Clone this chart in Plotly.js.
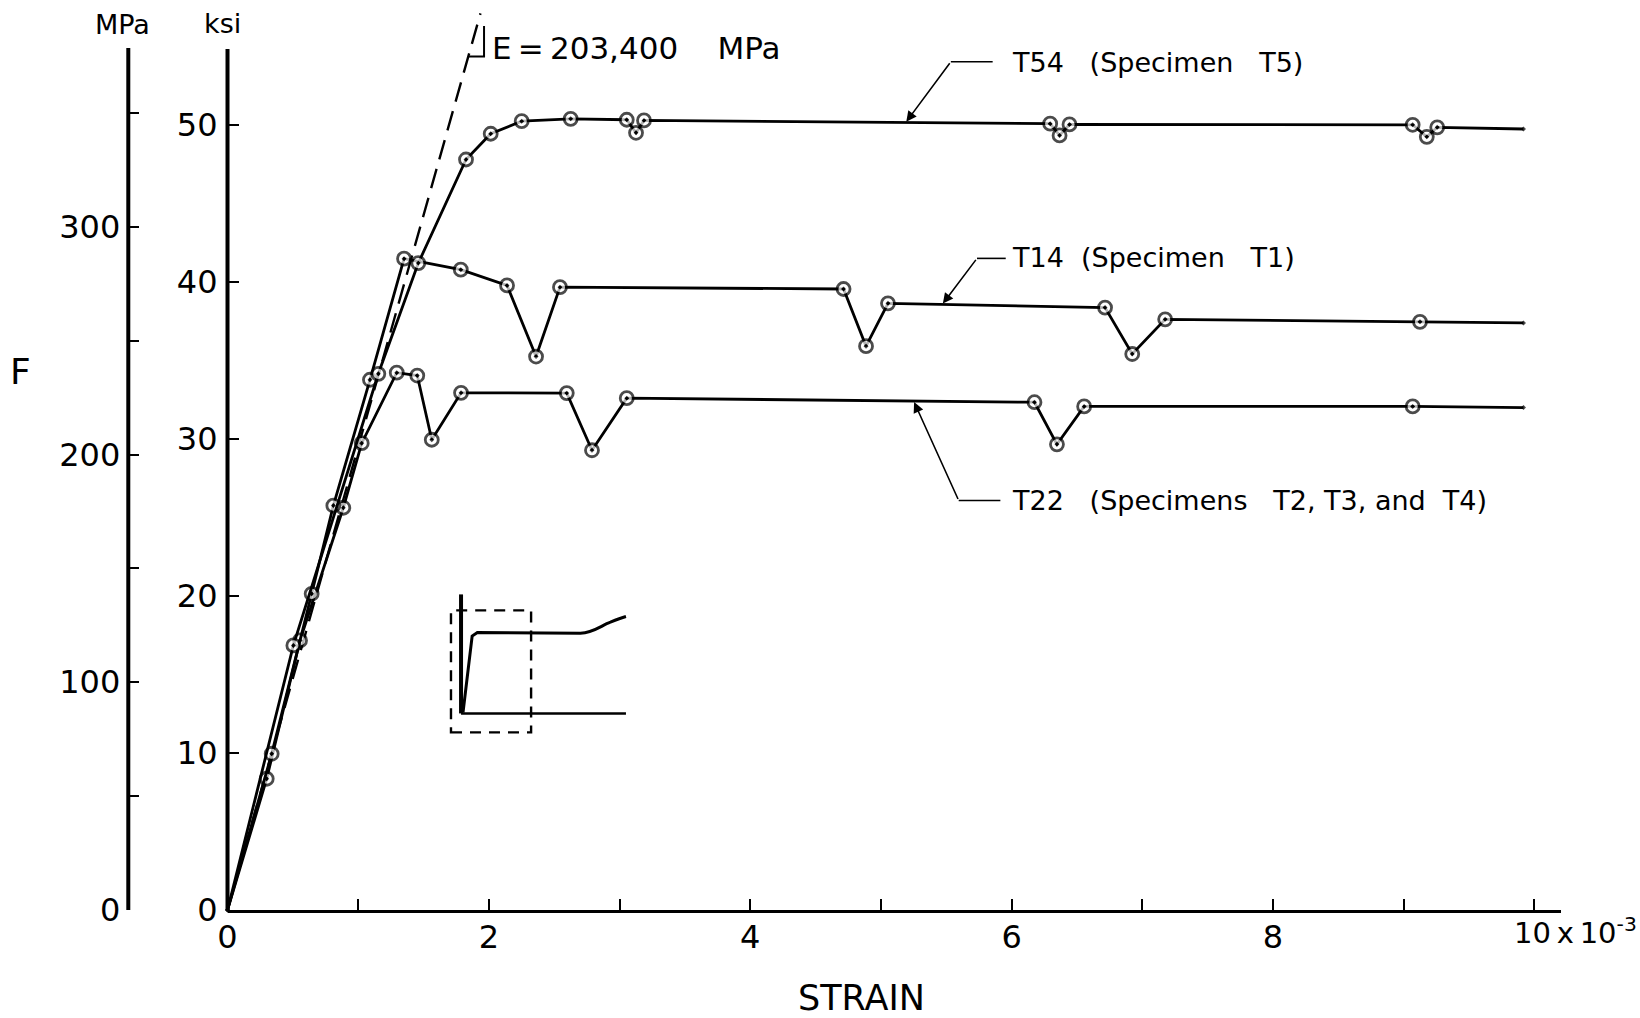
<!DOCTYPE html>
<html>
<head>
<meta charset="utf-8">
<script src="https://cdn.plot.ly/plotly-3.0.1.min.js"></script>
<style>
  html, body { margin: 0; padding: 0; background: #ffffff; }
  #chart { width: 1640px; height: 1018px; }
</style>
</head>
<body>
<div id="chart"></div>
<script>
// ---------------- data (strain in units of 10^-3, stress in ksi) ----------------
const t54Strain = [0, 0.504, 1.154, 1.460, 1.825, 2.014, 2.251, 2.626, 3.055, 3.126, 3.187, 6.295, 6.367, 6.443, 9.069, 9.177, 9.257, 9.917];
const t54Stress = [0, 16.85, 34.15, 41.20, 47.80, 49.44, 50.24, 50.39, 50.33, 49.50, 50.29, 50.08, 49.33, 50.03, 50.01, 49.24, 49.85, 49.74];

const t14Strain = [0, 0.338, 0.644, 0.810, 1.090, 1.351, 1.785, 2.139, 2.361, 2.544, 4.714, 4.886, 5.054, 6.715, 6.923, 7.175, 9.125, 9.917];
const t14Stress = [0, 9.95, 20.14, 25.76, 33.77, 41.48, 40.78, 39.78, 35.25, 39.67, 39.55, 35.91, 38.64, 38.37, 35.41, 37.62, 37.46, 37.39];

const t22Strain = [0, 0.300, 0.555, 0.886, 1.027, 1.295, 1.452, 1.563, 1.787, 2.596, 2.789, 3.055, 6.175, 6.347, 6.555, 9.069, 9.917];
const t22Stress = [0, 8.36, 17.17, 25.62, 29.73, 34.22, 34.04, 29.95, 32.94, 32.92, 29.28, 32.60, 32.34, 29.66, 32.07, 32.07, 32.00];

const modulusMPa = 203400;            // E = 203,400 MPa
const mpaPerKsi = 6.89476;
const eLineTopKsi = 57.1;

const ksiTicks = [0, 10, 20, 30, 40, 50];
const mpaTicks = [0, 50, 100, 150, 200, 250, 300, 350];
const mpaTickText = ['0', '', '100', '', '200', '', '300', ''];
const strainTicks = [0, 1, 2, 3, 4, 5, 6, 7, 8, 9, 10];
const strainTickText = ['0', '', '2', '', '4', '', '6', '', '8', '', ''];

const seriesNames = ['T54 (Specimen T5)', 'T14 (Specimen T1)', 'T22 (Specimens T2, T3, and T4)'];
// ---------------------------------------------------------------------------------

const FONT = 'DejaVu Sans, Liberation Sans, Arial, sans-serif';
const NB = '\u00A0';
const THIN = '\u2009';

function curve(xs, ys, name) {
  const n = xs.length;
  return {
    x: xs, y: ys, name: name, type: 'scatter', mode: 'lines+markers',
    xaxis: 'x', yaxis: 'y',
    line: { color: '#000', width: 2.8 },
    marker: {
      symbol: 'circle-dot',
      size: xs.map((_, i) => (i === 0 || i === n - 1) ? 0 : 13),
      color: '#fff',
      line: { color: '#000', width: 2.8 }
    },
    cliponaxis: false,
    hoverinfo: 'x+y+name', showlegend: false
  };
}

// Elastic modulus line in ksi per 10^-3 strain
const eKsiPerUnit = modulusMPa * 1e-3 / mpaPerKsi;
const eTopStrain = eLineTopKsi / eKsiPerUnit;

const traces = [
  {
    x: [0, eTopStrain], y: [0, eLineTopKsi], type: 'scatter', mode: 'lines',
    line: { color: '#000', width: 2.4, dash: '20px,10px' },
    hoverinfo: 'skip', showlegend: false
  },
  curve(t22Strain, t22Stress, seriesNames[2]),
  curve(t14Strain, t14Stress, seriesNames[1]),
  curve(t54Strain, t54Stress, seriesNames[0]),
  { x: [0], y: [0], xaxis: 'x', yaxis: 'y2', type: 'scatter', mode: 'markers',
    marker: { opacity: 0 }, hoverinfo: 'skip', showlegend: false }
];

const yMaxKsi = 57.32;
const xDomStart = 0.1116;

const shapes = [
  // ksi axis line
  { type: 'line', xref: 'paper', yref: 'paper', x0: xDomStart, x1: xDomStart, y0: 0, y1: 0.9567,
    line: { color: '#000', width: 4 } },
  // MPa axis line
  { type: 'line', xref: 'paper', yref: 'paper', x0: 0.0455, x1: 0.0455, y0: 0, y1: 0.9578,
    line: { color: '#000', width: 4 } },
  // slope mark at top of E line
  { type: 'path', xref: 'x', yref: 'y',
    path: 'M' + (54.36 / eKsiPerUnit) + ',54.36 L1.963,54.36 L1.963,56.3',
    line: { color: '#000', width: 2 } },
  // leader horizontal segments
  { type: 'line', xref: 'x', yref: 'y', x0: 5.535, x1: 5.855, y0: 54.02, y1: 54.02, line: { color: '#000', width: 1.6 } },
  { type: 'line', xref: 'x', yref: 'y', x0: 5.735, x1: 5.955, y0: 41.50, y1: 41.50, line: { color: '#000', width: 1.6 } },
  { type: 'line', xref: 'x', yref: 'y', x0: 5.595, x1: 5.914, y0: 26.08, y1: 26.08, line: { color: '#000', width: 1.6 } },
  // inset schematic
  { type: 'line', xref: 'x', yref: 'y', x0: 1.787, x1: 1.787, y0: 12.52, y1: 20.1, line: { color: '#000', width: 4 } },
  { type: 'line', xref: 'x', yref: 'y', x0: 1.787, x1: 3.049, y0: 12.52, y1: 12.52, line: { color: '#000', width: 2.5 } },
  { type: 'path', xref: 'x', yref: 'y',
    path: 'M1.802,12.58 L1.872,17.45 L1.912,17.68 L2.70,17.63 C2.80,17.66 2.86,18.12 2.93,18.33 C2.98,18.50 3.02,18.62 3.049,18.69',
    line: { color: '#000', width: 3 } },
  { type: 'rect', xref: 'x', yref: 'y', x0: 1.710, x1: 2.323, y0: 11.31, y1: 19.08,
    line: { color: '#000', width: 2.4, dash: '11px,8px' } }
];

const labelFont = { family: FONT, size: 27, color: '#000' };

const annotations = [
  { xref: 'paper', yref: 'paper', x: 0.0415, y: 0.9844, text: 'MPa', showarrow: false,
    xanchor: 'center', yanchor: 'middle', font: { family: FONT, size: 27, color: '#000' } },
  { xref: 'paper', yref: 'paper', x: 0.1083, y: 0.9855, text: 'ksi', showarrow: false,
    xanchor: 'center', yanchor: 'middle', font: { family: FONT, size: 27, color: '#000' } },
  { xref: 'paper', yref: 'paper', x: -0.026, y: 0.5983, text: 'F', showarrow: false,
    xanchor: 'center', yanchor: 'middle', font: { family: FONT, size: 36, color: '#000' } },
  { xref: 'paper', yref: 'paper', x: 0.5343, y: -0.1222, text: 'STRAIN', showarrow: false,
    xanchor: 'center', yanchor: 'bottom', font: { family: FONT, size: 35, color: '#000' } },
  { xref: 'paper', yref: 'paper', x: 0.9672, y: 0.0, text: '10' + THIN + 'x' + THIN + '10<sup>-3</sup>', showarrow: false,
    xanchor: 'left', yanchor: 'top', font: { family: FONT, size: 29, color: '#000' } },
  { xref: 'x', yref: 'y', x: 2.012, y: 54.9, text: 'E' + THIN + '=' + THIN + '203,400' + NB + NB + NB + NB + 'MPa', showarrow: false,
    xanchor: 'left', yanchor: 'middle', font: { family: FONT, size: 31, color: '#000' } },
  { xref: 'x', yref: 'y', x: 5.985, y: 53.95, text: 'T54' + NB + NB + NB + '(Specimen' + NB + NB + NB + 'T5)', showarrow: false,
    xanchor: 'left', yanchor: 'middle', font: labelFont },
  { xref: 'x', yref: 'y', x: 5.99, y: 41.56, text: 'T14' + NB + NB + '(Specimen' + NB + NB + NB + 'T1)', showarrow: false,
    xanchor: 'left', yanchor: 'middle', font: labelFont },
  { xref: 'x', yref: 'y', x: 5.99, y: 26.08, text: 'T22' + NB + NB + NB + '(Specimens' + NB + NB + NB + 'T2,' + NB + 'T3,' + NB + 'and' + NB + NB + 'T4)', showarrow: false,
    xanchor: 'left', yanchor: 'middle', font: labelFont },
  // leader arrows
  { xref: 'x', yref: 'y', axref: 'x', ayref: 'y', x: 5.194, y: 50.2, ax: 5.535, ay: 54.02, text: '',
    showarrow: true, arrowhead: 2, arrowsize: 1.3, arrowwidth: 1.6, arrowcolor: '#000', standoff: 0, startstandoff: 0 },
  { xref: 'x', yref: 'y', axref: 'x', ayref: 'y', x: 5.474, y: 38.62, ax: 5.735, ay: 41.50, text: '',
    showarrow: true, arrowhead: 2, arrowsize: 1.3, arrowwidth: 1.6, arrowcolor: '#000', standoff: 0, startstandoff: 0 },
  { xref: 'x', yref: 'y', axref: 'x', ayref: 'y', x: 5.254, y: 32.35, ax: 5.595, ay: 26.08, text: '',
    showarrow: true, arrowhead: 2, arrowsize: 1.3, arrowwidth: 1.6, arrowcolor: '#000', standoff: 0, startstandoff: 0 }
];

const tickFont = { family: FONT, size: 32, color: '#000' };

const layout = {
  width: 1640, height: 1018,
  margin: { l: 60, r: 79, t: 10, b: 108, pad: 0 },
  paper_bgcolor: '#fff', plot_bgcolor: 'rgba(0,0,0,0)',
  showlegend: false,
  xaxis: {
    domain: [xDomStart, 1], range: [0, 10.204],
    tickvals: strainTicks, ticktext: strainTickText,
    ticks: 'inside', ticklen: 11, tickwidth: 2, tickcolor: '#000',
    showline: true, linewidth: 3, linecolor: '#000',
    showgrid: false, zeroline: false, tickfont: tickFont, ticklabelstandoff: -3
  },
  yaxis: {
    range: [0, yMaxKsi], tickvals: ksiTicks,
    ticks: 'inside', ticklen: 11, tickwidth: 2.5, tickcolor: '#000',
    showline: false, showgrid: false, zeroline: false, tickfont: tickFont, ticklabelstandoff: 9
  },
  yaxis2: {
    overlaying: 'y', anchor: 'free', position: 0.0455, side: 'left',
    range: [0, yMaxKsi * mpaPerKsi], tickvals: mpaTicks, ticktext: mpaTickText,
    ticks: 'inside', ticklen: 10, tickwidth: 2, tickcolor: '#000',
    showline: false, showgrid: false, zeroline: false, tickfont: tickFont, ticklabelstandoff: 8
  },
  shapes: shapes,
  annotations: annotations
};

Plotly.newPlot('chart', traces, layout, { displayModeBar: false, staticPlot: true });
</script>
</body>
</html>
